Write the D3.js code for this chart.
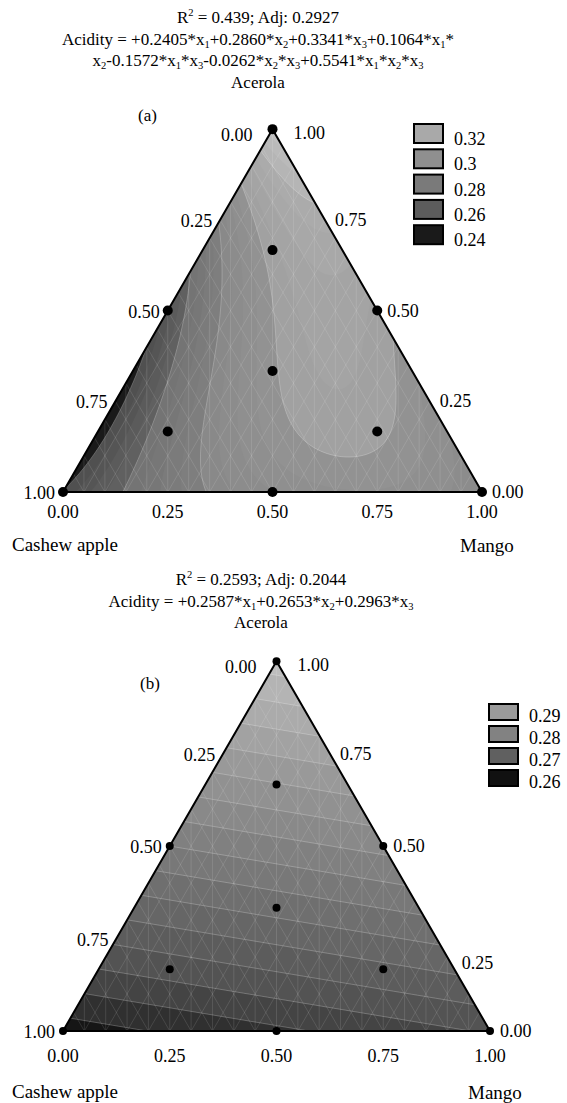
<!DOCTYPE html>
<html>
<head>
<meta charset="utf-8">
<script src="https://cdn.jsdelivr.net/npm/d3@7"></script>
<style>
  body { margin: 0; background: #fff; }
  svg { display: block; font-family: "Liberation Serif", "Times New Roman", serif; }
</style>
</head>
<body>
<svg id="chart" width="567" height="1103"></svg>
<script>
// Mixture components: x1 = cashew apple, x2 = mango, x3 = acerola
const components = ["Cashew apple", "Mango", "Acerola"];
const tickValues = [0, 0.25, 0.5, 0.75, 1];
const tickLabels = ["0.00", "0.25", "0.50", "0.75", "1.00"];

// Simplex-centroid design points [cashew, mango, acerola]
const designPoints = [
  [1, 0, 0], [0, 1, 0], [0, 0, 1],
  [0.5, 0.5, 0], [0.5, 0, 0.5], [0, 0.5, 0.5],
  [1 / 3, 1 / 3, 1 / 3],
  [2 / 3, 1 / 6, 1 / 6], [1 / 6, 2 / 3, 1 / 6], [1 / 6, 1 / 6, 2 / 3]
];

// Fitted model coefficients as printed: x1, x2, x3, x1x2, x1x3, x2x3, x1x2x3
const coefA = [0.2405, 0.2860, 0.3341, 0.1064, -0.1572, -0.0262, 0.5541];
const coefB = [0.2587, 0.2653, 0.2963, 0, 0, 0, 0];

const titleA = [
  "R^2 = 0.439; Adj: 0.2927",
  "Acidity = +0.2405*x_1+0.2860*x_2+0.3341*x_3+0.1064*x_1*",
  "x_2-0.1572*x_1*x_3-0.0262*x_2*x_3+0.5541*x_1*x_2*x_3",
  "Acerola"
];
const titleB = [
  "R^2 = 0.2593; Adj: 0.2044",
  "Acidity = +0.2587*x_1+0.2653*x_2+0.2963*x_3",
  "Acerola"
];

const legendLevelsA = [0.32, 0.3, 0.28, 0.26, 0.24];
const legendColorsA = ["#a9a9a9", "#8f8f8f", "#7a7a7a", "#5c5c5c", "#1a1a1a"];
const legendLevelsB = [0.29, 0.28, 0.27, 0.26];
const legendColorsB = ["#9a9a9a", "#828282", "#606060", "#111111"];

const svg = d3.select("#chart");

// Write a text line, turning "x_1" into subscripts and "R^2" into superscripts
function richText(sel, str, size) {
  const parts = str.split(/([_^]\d)/).filter((p) => p);
  let back = 0;
  parts.forEach((p) => {
    if (p[0] === "_" || p[0] === "^") {
      const shift = p[0] === "_" ? 3 : -7;
      sel.append("tspan").attr("dy", shift + back).attr("font-size", size * 0.62).text(p[1]);
      back = -shift;
    } else {
      sel.append("tspan").attr("dy", back).attr("font-size", size).text(p);
      back = 0;
    }
  });
}

function model(k, c, m, a) {
  return k[0] * c + k[1] * m + k[2] * a + k[3] * c * m + k[4] * c * a + k[5] * m * a + k[6] * c * m * a;
}

function drawTernary(cfg) {
  const g = svg.append("g");
  const x = d3.scaleLinear().domain([0, 1]).range([cfg.left, cfg.right]);
  const apexY = cfg.bottom - (cfg.right - cfg.left) * Math.sqrt(3) / 2;
  const y = d3.scaleLinear().domain([0, 1]).range([cfg.bottom, apexY]);
  const proj = (c, m, a) => [x(m + a / 2), y(a)];

  // title block
  cfg.title.forEach((line, i) => {
    const t = g.append("text")
      .attr("text-anchor", "middle")
      .attr("x", cfg.titleX)
      .attr("y", cfg.titleY + i * cfg.titleGap)
      .attr("font-size", cfg.titleSize);
    richText(t, line, cfg.titleSize);
  });

  g.append("text").attr("x", cfg.tagX).attr("y", cfg.tagY).attr("font-size", 17).text(cfg.tag);

  // evaluate surface on a pixel grid
  const res = 1;
  const nx = Math.ceil((cfg.right - cfg.left) / res) + 2;
  const ny = Math.ceil((cfg.bottom - apexY) / res) + 2;
  const values = new Float64Array(nx * ny);
  for (let j = 0; j < ny; j++) {
    for (let i = 0; i < nx; i++) {
      let a = y.invert(apexY + j * res);
      let m = x.invert(cfg.left + i * res) - a / 2;
      let c = 1 - a - m;
      a = Math.max(0, a); m = Math.max(0, m); c = Math.max(0, c);
      const s = a + m + c;
      values[j * nx + i] = model(cfg.coef, c / s, m / s, a / s);
    }
  }

  const clipId = "clip-" + cfg.tag.replace(/\W/g, "");
  const tri = [proj(1, 0, 0), proj(0, 1, 0), proj(0, 0, 1)];
  g.append("clipPath").attr("id", clipId)
    .append("path").attr("d", "M" + tri.join("L") + "Z");

  const surface = g.append("g").attr("clip-path", `url(#${clipId})`);
  const thresholds = d3.range(cfg.lo, cfg.hi + 1e-9, cfg.step);
  const contours = d3.contours().size([nx, ny]).thresholds(thresholds)(values);
  const path = d3.geoPath(d3.geoIdentity().scale(res).translate([cfg.left - 0.5 * res, apexY - 0.5 * res]));

  surface.append("path").attr("d", "M" + tri.join("L") + "Z").attr("fill", cfg.color(cfg.lo - cfg.step / 2));
  surface.selectAll("path.band").data(contours).join("path")
    .attr("class", "band")
    .attr("d", path)
    .attr("fill", (d) => cfg.color(d.value + cfg.step / 2));

  // faint contour lines
  surface.selectAll("path.iso").data(contours.filter((d) => cfg.isLine(d.value))).join("path")
    .attr("class", "iso")
    .attr("d", path)
    .attr("fill", "none")
    .attr("stroke", "#fff")
    .attr("stroke-opacity", 0.3)
    .attr("stroke-width", 0.8);

  // surface mesh
  const mesh = [];
  const n = 20;
  for (let k = 1; k < n; k++) {
    const s = k / n;
    mesh.push([[x(s), y(0)], [x(s), y(2 * Math.min(s, 1 - s))]]);
    mesh.push([proj(1 - s, s, 0), proj(0, s, 1 - s)]);
    mesh.push([proj(s, 1 - s, 0), proj(s, 0, 1 - s)]);
  }
  surface.selectAll("line.mesh").data(mesh).join("line")
    .attr("class", "mesh")
    .attr("x1", (d) => d[0][0]).attr("y1", (d) => d[0][1])
    .attr("x2", (d) => d[1][0]).attr("y2", (d) => d[1][1])
    .attr("stroke", "#fff")
    .attr("stroke-opacity", 0.2)
    .attr("stroke-width", 0.6);

  // outline
  g.append("path").attr("d", "M" + tri.join("L") + "Z")
    .attr("fill", "none").attr("stroke", "#000").attr("stroke-width", 2).attr("stroke-linejoin", "round");

  // design points
  g.selectAll("circle.pt").data(designPoints).join("circle")
    .attr("class", "pt")
    .attr("cx", (d) => proj(...d)[0])
    .attr("cy", (d) => proj(...d)[1])
    .attr("r", cfg.dot)
    .attr("fill", "#000");

  // tick labels
  const fs = 18;
  // bottom: mango fraction
  g.selectAll("text.tb").data(tickValues).join("text")
    .attr("class", "tb").attr("font-size", fs).attr("text-anchor", "middle")
    .attr("x", (d) => x(d)).attr("y", cfg.bottom + cfg.bottomGap)
    .text((d, i) => tickLabels[i]);
  // left edge: cashew fraction
  g.selectAll("text.tl").data(tickValues).join("text")
    .attr("class", "tl").attr("font-size", fs).attr("text-anchor", "end")
    .attr("x", (d) => proj(d, 0, 1 - d)[0] - (d === 0 ? 20 : 8))
    .attr("y", (d) => proj(d, 0, 1 - d)[1] + (d === 0 ? 12 : 7))
    .text((d, i) => tickLabels[i]);
  // right edge: acerola fraction
  g.selectAll("text.tr").data(tickValues).join("text")
    .attr("class", "tr").attr("font-size", fs).attr("text-anchor", "start")
    .attr("x", (d, i) => proj(0, 1 - d, d)[0] + (d === 1 ? 21 : 10) + cfg.rightDx[i])
    .attr("y", (d, i) => proj(0, 1 - d, d)[1] + (d === 1 ? 10 : 6) + cfg.rightDy[i])
    .text((d, i) => tickLabels[i]);

  g.append("text").attr("font-size", 19).attr("x", 12).attr("y", cfg.nameY).text(components[0]);
  g.append("text").attr("font-size", 19).attr("x", cfg.mangoX).attr("y", cfg.nameY + 1).text(components[1]);

  // legend
  const lg = g.append("g");
  cfg.levels.forEach((v, i) => {
    const top = cfg.legendY + i * cfg.legendGap;
    lg.append("rect")
      .attr("x", cfg.legendX).attr("y", top)
      .attr("width", 29).attr("height", cfg.swatchH)
      .attr("fill", cfg.swatches[i]).attr("stroke", "#000").attr("stroke-width", 2);
    lg.append("text").attr("font-size", fs)
      .attr("x", cfg.legendX + 40).attr("y", top + cfg.swatchH + 2)
      .text(String(v));
  });
}

// banded grey ramp: flat legend colours per band, slight shading inside each
const colorA = d3.scaleLinear()
  .domain([0.23, 0.2399, 0.2401, 0.2599, 0.2601, 0.2799, 0.2801, 0.2999, 0.3001, 0.3199, 0.3201, 0.34])
  .range(["#121212", "#1c1c1c", "#4e4e4e", "#626262", "#727272", "#808080", "#878787", "#949494", "#9f9f9f", "#adadad", "#b3b3b3", "#c6c6c6"])
  .clamp(true);

const colorB = d3.scaleLinear()
  .domain([0.258, 0.2605, 0.265, 0.275, 0.285, 0.297])
  .range(["#0e0e0e", "#2a2a2a", "#4e4e4e", "#747474", "#959595", "#c0c0c0"])
  .clamp(true);

drawTernary({
  tag: "(a)", tagX: 138, tagY: 121,
  title: titleA, titleX: 258, titleY: 23, titleGap: 21.5, titleSize: 17,
  left: 63, right: 482, bottom: 492,
  coef: coefA, lo: 0.225, hi: 0.34, step: 0.005, color: colorA,
  isLine: (v) => Math.abs(v * 100 - Math.round(v * 100)) < 1e-6 && Math.round(v * 100) % 2 === 0,
  dot: 5, bottomGap: 26, nameY: 551, mangoX: 460,
  rightDx: [0, 0, 0, 0, 0], rightDy: [0, 0, 0, 0, 0],
  levels: legendLevelsA, swatches: legendColorsA,
  legendX: 414, legendY: 124, legendGap: 25.3, swatchH: 19
});

drawTernary({
  tag: "(b)", tagX: 140, tagY: 689,
  title: titleB, titleX: 261, titleY: 585, titleGap: 21.5, titleSize: 17,
  left: 63, right: 490, bottom: 1031,
  coef: coefB, lo: 0.2575, hi: 0.2975, step: 0.0025, color: colorB,
  isLine: () => true,
  dot: 4, bottomGap: 31, nameY: 1098, mangoX: 468,
  rightDx: [0, 15, 0, 0, 0], rightDy: [0, 24, 0, 0, 0],
  levels: legendLevelsB, swatches: legendColorsB,
  legendX: 489, legendY: 704, legendGap: 22, swatchH: 16
});
</script>
</body>
</html>
